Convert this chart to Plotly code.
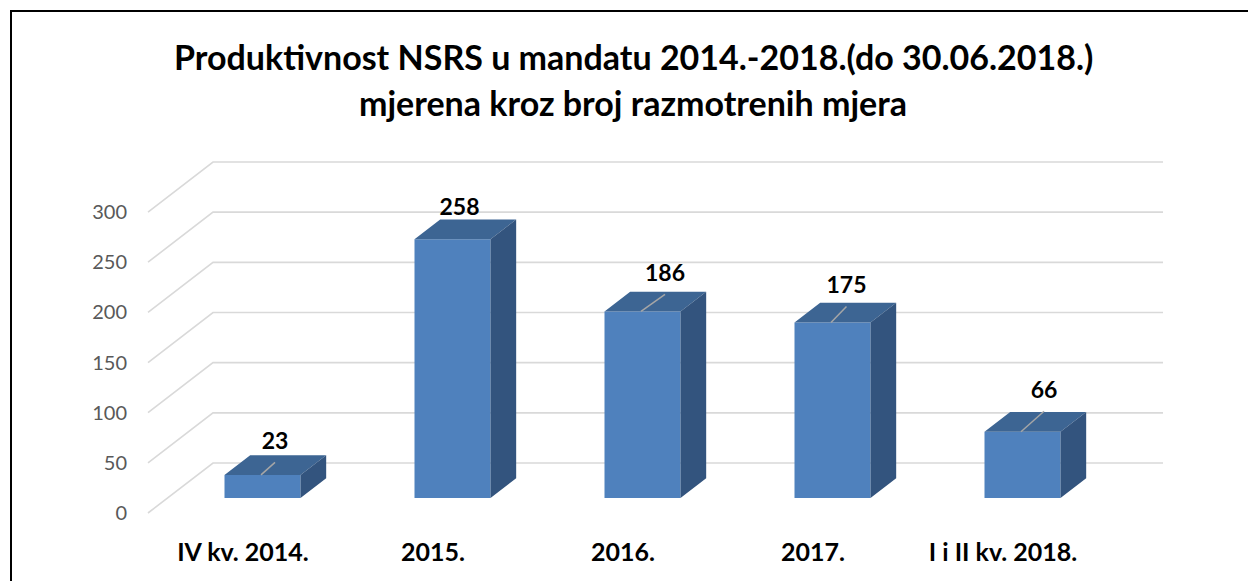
import plotly.graph_objects as go

# ---------------- data ----------------
categories = ["IV kv. 2014.", "2015.", "2016.", "2017.", "I i II kv. 2018."]
values = [23, 258, 186, 175, 66]
y_ticks = [0, 50, 100, 150, 200, 250, 300]
title_lines = ["Produktivnost NSRS u mandatu 2014.-2018.(do 30.06.2018.)",
               "mjerena kroz broj razmotrenih mjera"]

# ---------------- style / geometry ----------------
W, H = 1248, 581
PX = 1.0033            # pixels per value unit
Y0 = 513               # pixel row of value 0 on the front plane
FLOOR_X0, FLOOR_X1 = 148, 1098   # front edge of the floor (pixel x)
DEPTH_X, DEPTH_Y = 65, 50        # oblique depth offset of the wall (pixels)
BAR_D0, BAR_D1 = 0.30, 0.695     # bar depth (fraction of floor depth)
BAR_FRAC = 0.40                  # bar width as fraction of category slot
# manual label nudges (px, relative to top-front centre of each bar)
label_dx = [12.5, 7, 22.5, 14, 21.5]
label_dy = [31.5, 30, 36, 35, 39.5]
show_leader = [True, False, True, True, True]

FRONT = "#4F81BD"
TOP = "#3D6593"
SIDE = "#33547E"
GRID = "#D9D9D9"
FONT = "Lato"

u = 1.0 / PX                      # value units per pixel
dyu = DEPTH_Y * u
n = len(categories)
slot = (FLOOR_X1 - FLOOR_X0) / n
bw = BAR_FRAC * slot
base = BAR_D0 * dyu
ddx = (BAR_D1 - BAR_D0) * DEPTH_X
ddy = (BAR_D1 - BAR_D0) * dyu

cat_centers = [FLOOR_X0 + (i + 0.5) * slot for i in range(n)]
bar_centers = [c + BAR_D0 * DEPTH_X for c in cat_centers]

fig = go.Figure()

# gridlines (side wall diagonal + back wall), drawn below everything
shapes = []
for v in y_ticks:
    path = (f"M {FLOOR_X0},{v} L {FLOOR_X0 + DEPTH_X},{v + dyu} "
            f"L {FLOOR_X1 + DEPTH_X},{v + dyu}")
    shapes.append(dict(type="path", path=path, xref="x", yref="y",
                       line=dict(color=GRID, width=1.6), layer="below"))

# chart border
shapes.append(dict(type="rect", xref="paper", yref="paper",
                   x0=11 / W, x1=1.2, y0=-0.2, y1=1 - 11 / H,
                   line=dict(color="black", width=2), fillcolor="rgba(0,0,0,0)"))

# front faces
fig.add_trace(go.Bar(x=bar_centers, y=values, base=base, width=bw,
                     marker=dict(color=FRONT, line=dict(width=0)),
                     hoverinfo="skip", showlegend=False))

# top and side faces
tx, ty, sx, sy = [], [], [], []
for c, v in zip(bar_centers, values):
    xl, xr = c - bw / 2, c + bw / 2
    top = base + v
    tx += [xl, xr, xr + ddx, xl + ddx, xl, None]
    ty += [top, top, top + ddy, top + ddy, top, None]
    sx += [xr, xr + ddx, xr + ddx, xr, xr, None]
    sy += [base, base + ddy, top + ddy, top, base, None]
fig.add_trace(go.Scatter(x=tx, y=ty, fill="toself", fillcolor=TOP, mode="lines",
                         line=dict(width=0, color=TOP), hoverinfo="skip", showlegend=False))
fig.add_trace(go.Scatter(x=sx, y=sy, fill="toself", fillcolor=SIDE, mode="lines",
                         line=dict(width=0, color=SIDE), hoverinfo="skip", showlegend=False))

# data labels + leader lines
lx, ly, lines_x, lines_y = [], [], [], []
for i, (c, v) in enumerate(zip(bar_centers, values)):
    top = base + v
    x_lab = c + label_dx[i]
    y_lab = top + label_dy[i] * u
    lx.append(x_lab)
    ly.append(y_lab)
    if show_leader[i]:
        lines_x += [c - 1.5, x_lab, None]
        lines_y += [top, y_lab - 19 * u, None]
fig.add_trace(go.Scatter(x=lines_x, y=lines_y, mode="lines",
                         line=dict(color="#A6A6A6", width=1.5),
                         hoverinfo="skip", showlegend=False))
fig.add_trace(go.Scatter(x=lx, y=ly, mode="text",
                         text=[f"<b>{v}</b>" for v in values],
                         textposition="middle center",
                         textfont=dict(family=FONT, size=23, color="black"),
                         hoverinfo="skip", showlegend=False))

# title (two centred lines)
title_y = [57, 102]
annotations = []
for line, yy in zip(title_lines, title_y):
    annotations.append(dict(text=f"<b>{line}</b>", xref="paper", yref="paper",
                            x=633 / W, y=1 - yy / H, xanchor="center", yanchor="middle",
                            showarrow=False,
                            font=dict(family=FONT, size=34, color="black")))

fig.update_layout(
    width=W, height=H,
    margin=dict(l=0, r=0, t=0, b=0),
    paper_bgcolor="white", plot_bgcolor="white",
    shapes=shapes,
    annotations=annotations,
    xaxis=dict(range=[0, W], showgrid=False, zeroline=False, showline=False,
               tickmode="array", tickvals=cat_centers,
               ticktext=[f"<b>{c}</b>" for c in categories],
               ticks="outside", ticklen=4, tickcolor="rgba(0,0,0,0)",
               tickfont=dict(family=FONT, size=25, color="black"),
               anchor="free", position=(H - 526) / H),
    yaxis=dict(range=[(Y0 - H) * u, Y0 * u], showgrid=False, zeroline=False,
               showline=False, tickmode="array", tickvals=y_ticks,
               ticks="outside", ticklen=17, tickcolor="rgba(0,0,0,0)",
               tickfont=dict(family=FONT, size=20, color="#595959"),
               anchor="free", position=FLOOR_X0 / W),
    showlegend=False,
)

fig.write_html("out.html", config={"displayModeBar": False},
               post_script="document.body.style.margin='0';document.body.style.overflow='hidden';")
